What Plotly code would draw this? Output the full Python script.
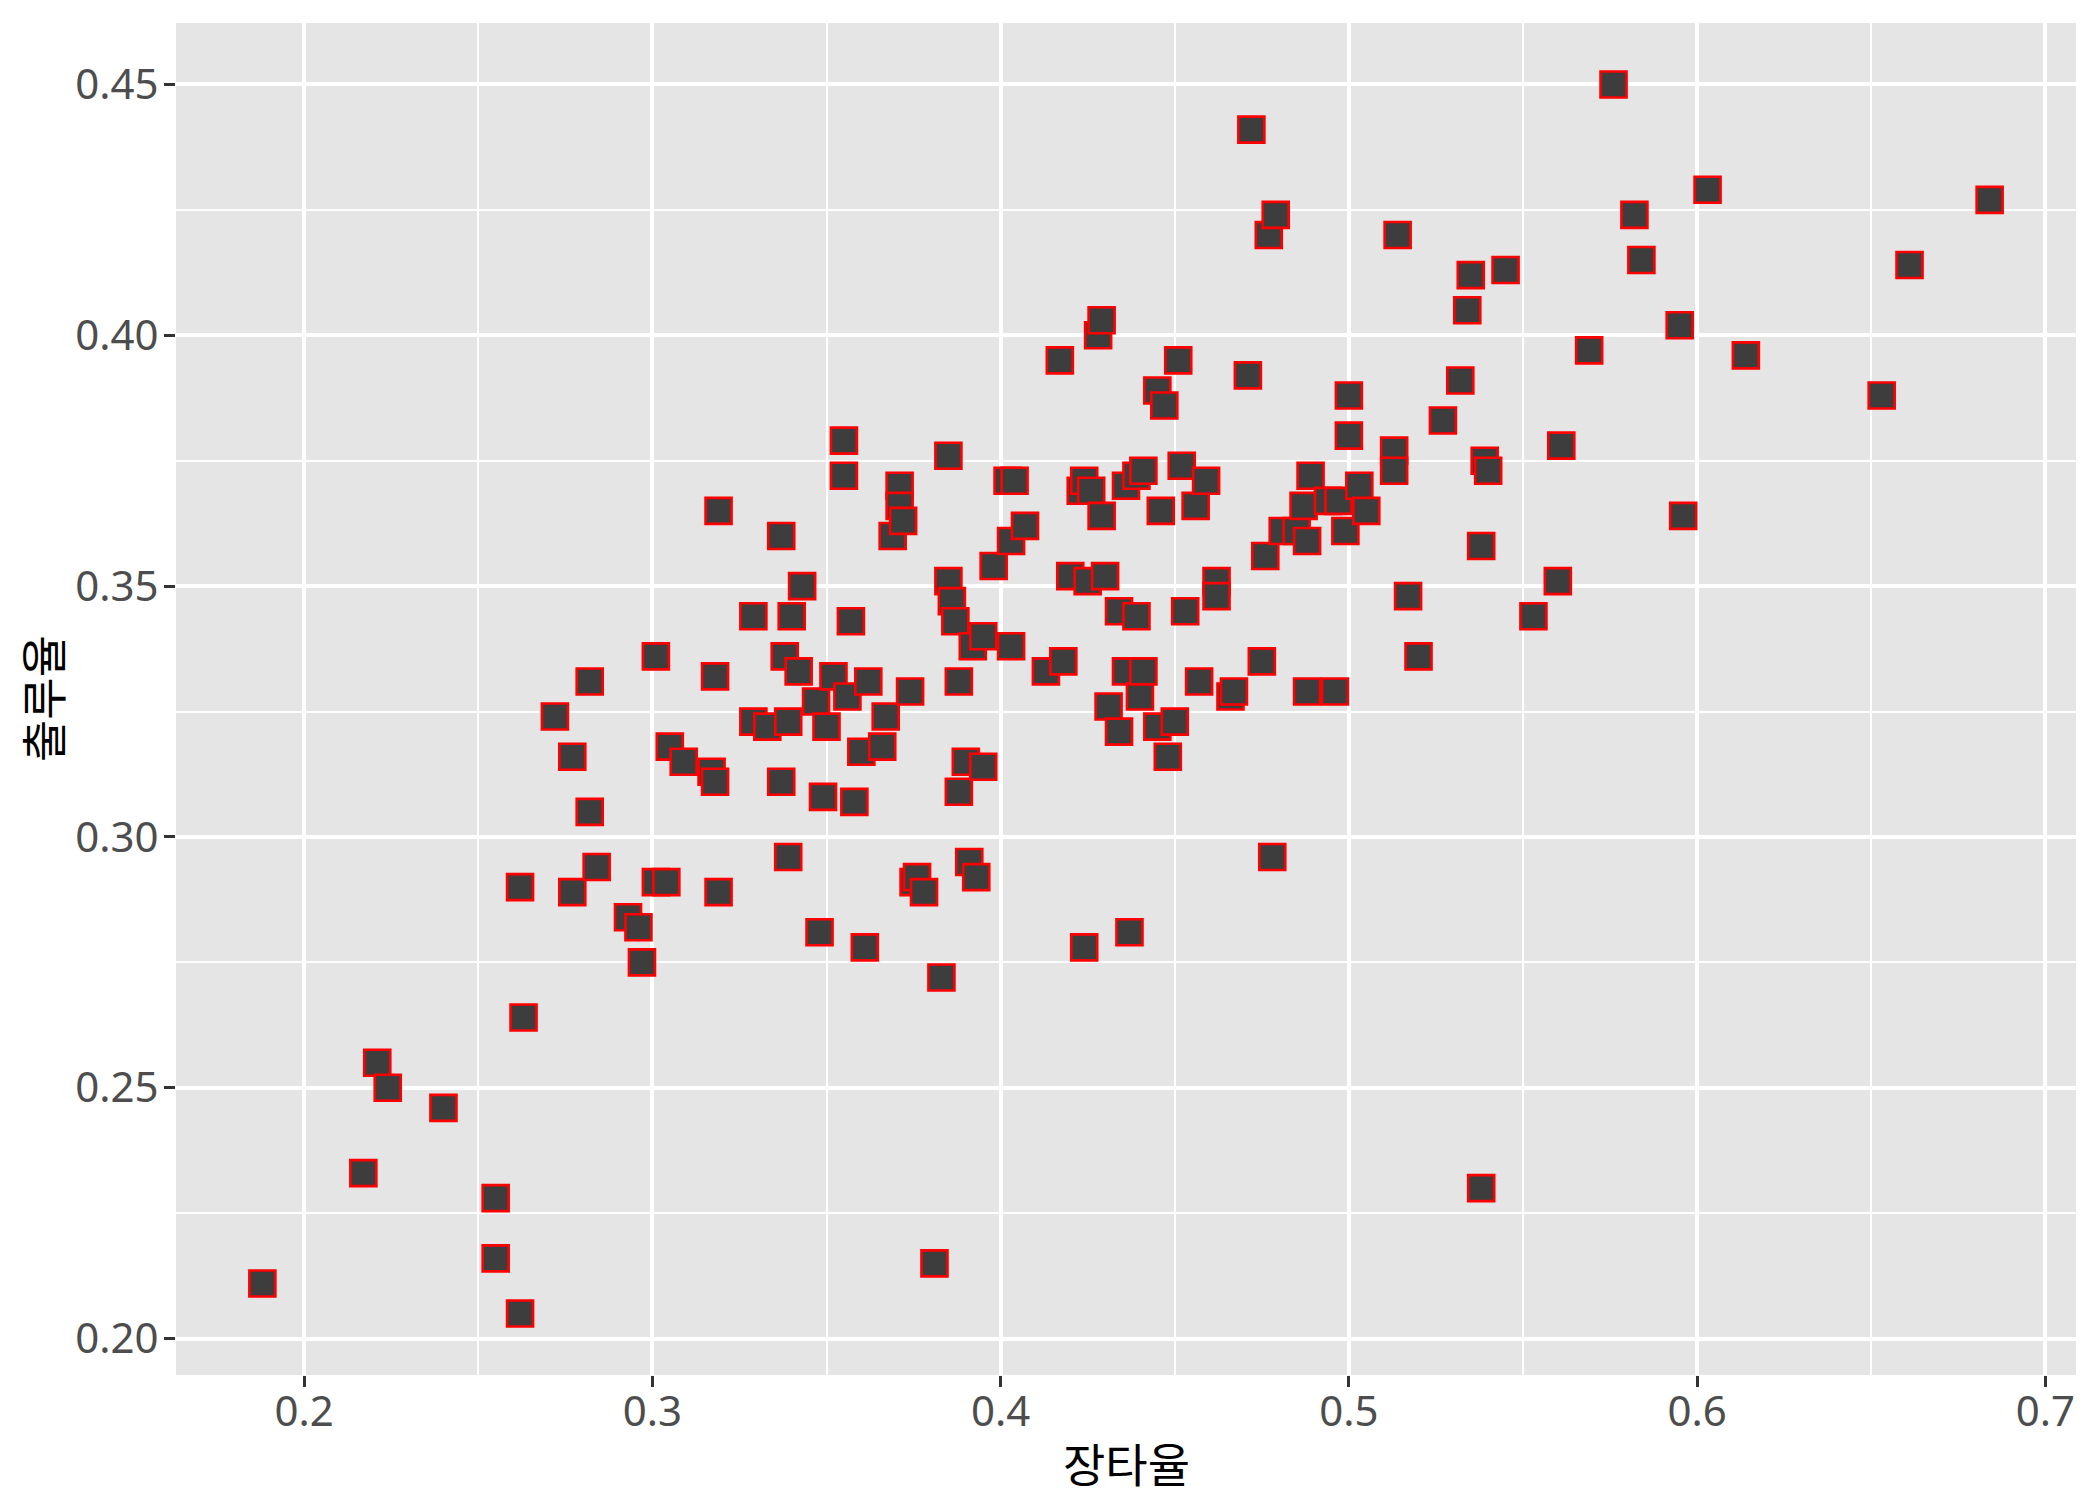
import plotly.graph_objects as go

# 장타율 (slugging) vs 출루율 (on-base), one square per player
slg = [
    0.188, 0.217, 0.221, 0.224, 0.240, 0.255, 0.255, 0.262, 0.263, 0.262,
    0.272, 0.277, 0.277, 0.282, 0.282, 0.284, 0.293, 0.296, 0.297, 0.301,
    0.301, 0.304, 0.305, 0.309, 0.317, 0.318, 0.318, 0.319, 0.319, 0.329,
    0.329, 0.333, 0.337, 0.337, 0.338, 0.339, 0.339, 0.340, 0.342, 0.343,
    0.347, 0.348, 0.349, 0.350, 0.352, 0.355, 0.355, 0.356, 0.357, 0.358,
    0.360, 0.361, 0.362, 0.366, 0.367, 0.369, 0.371, 0.371, 0.372, 0.374,
    0.375, 0.376, 0.378, 0.381, 0.383, 0.385, 0.385, 0.386, 0.387, 0.388,
    0.388, 0.390, 0.391, 0.392, 0.393, 0.395, 0.395, 0.398, 0.402, 0.403,
    0.404, 0.403, 0.407, 0.413, 0.418, 0.417, 0.420, 0.423, 0.424, 0.426,
    0.425, 0.424, 0.428, 0.429, 0.429, 0.430, 0.431, 0.434, 0.434, 0.436,
    0.436, 0.437, 0.439, 0.439, 0.440, 0.441, 0.441, 0.445, 0.446, 0.445,
    0.447, 0.448, 0.450, 0.451, 0.452, 0.453, 0.456, 0.457, 0.459, 0.462,
    0.462, 0.466, 0.467, 0.471, 0.472, 0.475, 0.476, 0.477, 0.479, 0.478,
    0.481, 0.485, 0.487, 0.488, 0.488, 0.489, 0.494, 0.496, 0.497, 0.499,
    0.500, 0.500, 0.503, 0.505, 0.513, 0.513, 0.514, 0.517, 0.520, 0.527,
    0.532, 0.534, 0.535, 0.538, 0.538, 0.539, 0.540, 0.545, 0.553, 0.560,
    0.561, 0.569, 0.576, 0.582, 0.584, 0.595, 0.596, 0.603, 0.614, 0.653,
    0.661, 0.684,
]
obp = [
    0.211, 0.233, 0.255, 0.250, 0.246, 0.228, 0.216, 0.205, 0.264, 0.290,
    0.324, 0.316, 0.289, 0.331, 0.305, 0.294, 0.284, 0.282, 0.275, 0.336,
    0.291, 0.291, 0.318, 0.315, 0.313, 0.311, 0.332, 0.365, 0.289, 0.344,
    0.323, 0.322, 0.311, 0.360, 0.336, 0.323, 0.296, 0.344, 0.333, 0.350,
    0.327, 0.281, 0.308, 0.322, 0.332, 0.379, 0.372, 0.328, 0.343, 0.307,
    0.317, 0.278, 0.331, 0.318, 0.324, 0.360, 0.370, 0.366, 0.363, 0.329,
    0.291, 0.292, 0.289, 0.215, 0.272, 0.376, 0.351, 0.347, 0.343, 0.331,
    0.309, 0.315, 0.295, 0.338, 0.292, 0.314, 0.340, 0.354, 0.371, 0.359,
    0.371, 0.338, 0.362, 0.333, 0.335, 0.395, 0.352, 0.369, 0.371, 0.369,
    0.351, 0.278, 0.400, 0.403, 0.364, 0.352, 0.326, 0.345, 0.321, 0.333,
    0.370, 0.281, 0.372, 0.344, 0.328, 0.373, 0.333, 0.389, 0.365, 0.322,
    0.386, 0.316, 0.323, 0.395, 0.374, 0.345, 0.366, 0.331, 0.371, 0.351,
    0.348, 0.328, 0.329, 0.392, 0.441, 0.335, 0.356, 0.420, 0.424, 0.296,
    0.361, 0.361, 0.366, 0.359, 0.329, 0.372, 0.367, 0.329, 0.367, 0.361,
    0.388, 0.380, 0.370, 0.365, 0.377, 0.373, 0.420, 0.348, 0.336, 0.383,
    0.391, 0.405, 0.412, 0.358, 0.230, 0.375, 0.373, 0.413, 0.344, 0.351,
    0.378, 0.397, 0.450, 0.424, 0.415, 0.402, 0.364, 0.429, 0.396, 0.388,
    0.414, 0.427,
]

x_ticks = [0.2, 0.3, 0.4, 0.5, 0.6, 0.7]
y_ticks = [0.20, 0.25, 0.30, 0.35, 0.40, 0.45]


def padded(vals, frac=0.05):
    lo, hi = min(vals), max(vals)
    d = (hi - lo) * frac
    return [lo - d, hi + d]


FONT = "Noto Sans, Noto Sans CJK KR, sans-serif"

fig = go.Figure()
fig.add_trace(go.Scatter(
    x=slg, y=obp, mode="markers",
    marker=dict(symbol="square", size=26, color="#3D3D3D",
                line=dict(color="#FF0000", width=2.6)),
    showlegend=False,
))

axis_common = dict(
    showline=False, zeroline=False, automargin=False,
    gridcolor="white", gridwidth=3.6,
    ticks="outside", ticklen=11, tickwidth=3, tickcolor="#333333",
    tickfont=dict(family=FONT, size=42, color="#4D4D4D"),
)

# the page body adds an 8px offset, so margins are trimmed to match
fig.update_layout(
    width=2100, height=1500,
    paper_bgcolor="white", plot_bgcolor="#E5E5E5",
    margin=dict(l=168, r=32, t=15, b=133),
    font=dict(family=FONT),
    xaxis=dict(
        range=padded(slg), tickvals=x_ticks, tickformat=".1f",
        ticklabelstandoff=-11,
        minor=dict(tick0=0.25, dtick=0.1, showgrid=True,
                   gridcolor="white", gridwidth=1.8),
        **axis_common,
    ),
    yaxis=dict(
        range=padded(obp), tickvals=y_ticks, tickformat=".2f",
        ticklabelstandoff=-3,
        minor=dict(tick0=0.225, dtick=0.05, showgrid=True,
                   gridcolor="white", gridwidth=1.8),
        **axis_common,
    ),
    annotations=[
        dict(text="장타율", xref="paper", yref="paper", x=0.5, y=0,
             xanchor="center", yanchor="middle", yshift=-89, showarrow=False,
             font=dict(family=FONT, size=46, color="black")),
        dict(text="출루율", xref="paper", yref="paper", x=0, y=0.5,
             xanchor="center", yanchor="middle", xshift=-133, textangle=-90,
             showarrow=False, font=dict(family=FONT, size=46, color="black")),
    ],
)

fig.write_html("out.html")
